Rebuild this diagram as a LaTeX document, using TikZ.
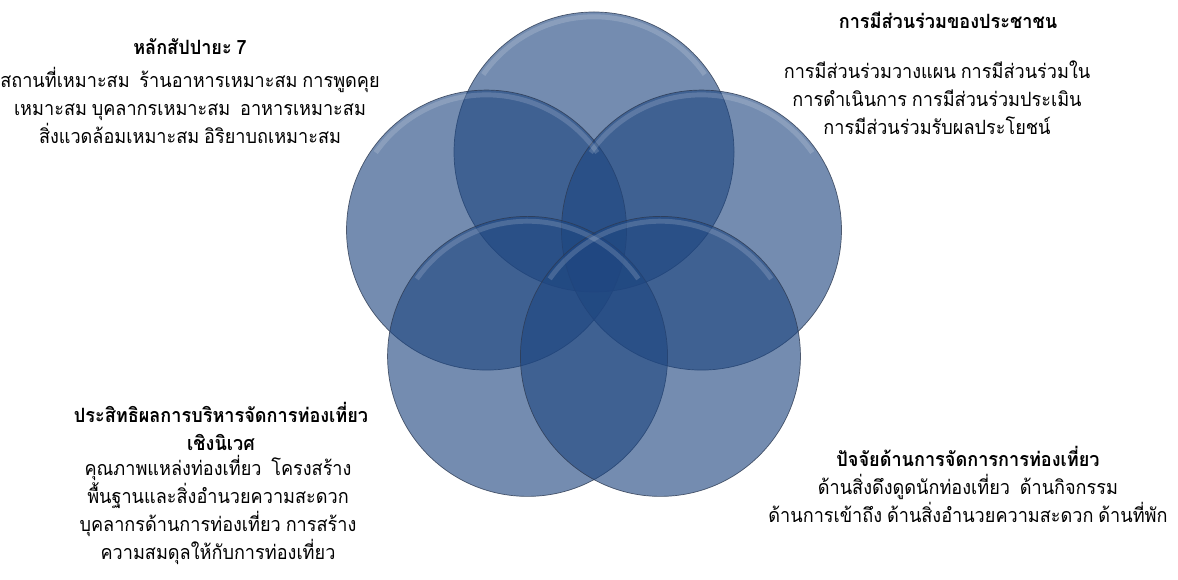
\documentclass[tikz,border=0pt]{standalone}
\usepackage{fontspec}
\usepackage{xcolor}
\usepackage{tikz}
\usetikzlibrary{positioning}
\newfontfamily\thaifont[Script=Thai, FakeStretch=0.92, WordSpace=0.8]{Loma}
\definecolor{petalblue}{RGB}{30,70,128}
\definecolor{petalline}{RGB}{45,58,82}

\begin{document}
\begin{tikzpicture}[
  petal/.style={circle, minimum size=7cm, inner sep=0pt, fill=petalblue, fill opacity=.62,
    draw=petalline, draw opacity=.8, line width=.5pt},
  gloss/.style={white, opacity=.16, line width=3.5pt},
  txt/.style={align=center, inner sep=0pt, font=\thaifont\fontsize{14}{19.9}\selectfont},
  head/.style={txt, font=\thaifont\bfseries\fontsize{14}{19.9}\selectfont}]
\useasboundingbox (0,0) rectangle (29.45,14.5);

% circles
\node[petal] (cTop) at (14.85,10.70) {};
\node[petal] (cLeft) at (12.163,8.748) {};
\node[petal] (cRight) at (17.537,8.748) {};
\node[petal] (cBotL) at (13.189,5.59) {};
\node[petal] (cBotR) at (16.511,5.59) {};

% light rim on top of each circle
\foreach \c in {cTop,cLeft,cRight,cBotL,cBotR}
  \draw[gloss] (\c.center) ++(145:3.38) arc[start angle=145, end angle=35, radius=3.38];

% top left
\node[head] (sappayaHead) at (4.75,13.325) {หลักสัปปายะ 7};
\node[txt] (sappayaBody) at (4.75,11.875) {สถานที่เหมาะสม \ ร้านอาหารเหมาะสม การพูดคุย\\
  เหมาะสม บุคลากรเหมาะสม \ อาหารเหมาะสม\\
  สิ่งแวดล้อมเหมาะสม อิริยาบถเหมาะสม};

% top right
\node[head] (partHead) at (23.7,14.0) {การมีส่วนร่วมของประชาชน};
\node[txt] (partBody) at (23.425,12.05) {การมีส่วนร่วมวางแผน การมีส่วนร่วมใน\\
  การดำเนินการ การมีส่วนร่วมประเมิน\\
  การมีส่วนร่วมรับผลประโยชน์};

% bottom left
\node[head] (effectHead) at (5.525,3.85) {ประสิทธิผลการบริหารจัดการท่องเที่ยว\\เชิงนิเวศ};
\node[txt] (effectBody) at (5.45,1.75) {คุณภาพแหล่งท่องเที่ยว \ โครงสร้าง\\
  พื้นฐานและสิ่งอำนวยความสะดวก\\
  บุคลากรด้านการท่องเที่ยว การสร้าง\\
  ความสมดุลให้กับการท่องเที่ยว};

% bottom right
\node[head] (factorHead) at (24.2,3.1) {ปัจจัยด้านการจัดการการท่องเที่ยว};
\node[txt] (factorBody) at (24.2,2.05) {ด้านสิ่งดึงดูดนักท่องเที่ยว \ ด้านกิจกรรม\\
  ด้านการเข้าถึง ด้านสิ่งอำนวยความสะดวก ด้านที่พัก};
\end{tikzpicture}
\end{document}
